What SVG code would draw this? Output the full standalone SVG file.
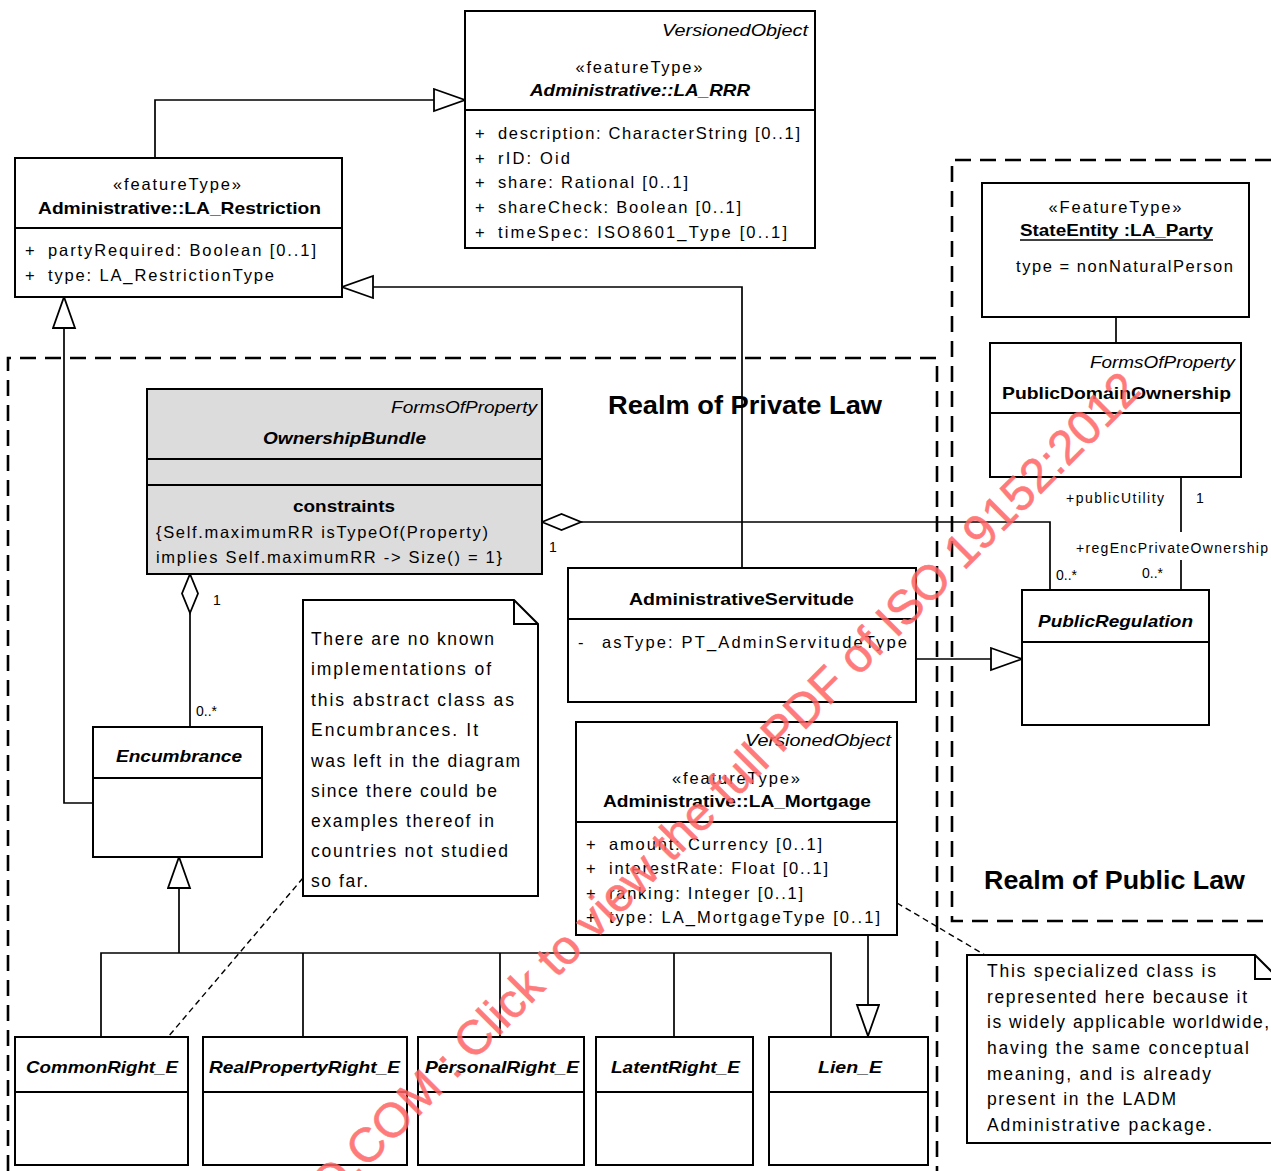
<svg xmlns="http://www.w3.org/2000/svg" width="1271" height="1171" viewBox="0 0 1271 1171">
<style>
text{font-family:"Liberation Sans",Arial,Helvetica,sans-serif;fill:#000}
.box{fill:#fff;stroke:#000;stroke-width:2}
.gray{fill:#dcdcdc;stroke:#000;stroke-width:2}
.sep{stroke:#000;stroke-width:2;fill:none}
.ln{stroke:#000;stroke-width:1.7;fill:none}
.dl{stroke:#000;stroke-width:1.4;fill:none;stroke-dasharray:6 4}
.frame{stroke:#000;stroke-width:2.6;fill:none;stroke-dasharray:16 9}
.a{font-size:16.5px}
.s{font-size:14px}
.n{font-size:17.5px}
.b{font-size:17px;font-weight:bold}
.bi{font-size:17px;font-weight:bold;font-style:italic}
.i{font-size:17px;font-style:italic}
.st{font-size:16.5px}
.realm{font-size:25px;font-weight:bold}
.c{text-anchor:middle}
.r{text-anchor:end}
.wm{font-size:48px;fill:#ff6464;stroke:#ff6464;stroke-width:0.6}
</style>
<defs>
<marker id="gen" markerUnits="userSpaceOnUse" markerWidth="36" markerHeight="26" refX="33" refY="12" orient="auto">
<path d="M2,1 L33,12 L2,23 Z" fill="#fff" stroke="#000" stroke-width="1.8"/>
</marker>
<marker id="agg" markerUnits="userSpaceOnUse" markerWidth="44" markerHeight="22" refX="1" refY="10" orient="auto">
<path d="M1,10 L20.5,2 L40,10 L20.5,18 Z" fill="#fff" stroke="#000" stroke-width="1.8"/>
</marker>
</defs>

<g id="frames">
<path class="frame" d="M8,1171 V358 H937 V1171"/>
<path class="frame" d="M1271,160 H952 V921 H1271"/>
<text class="realm" x="608" y="414" textLength="274" lengthAdjust="spacingAndGlyphs">Realm of Private Law</text>
<text class="realm" x="984" y="889" textLength="261" lengthAdjust="spacingAndGlyphs">Realm of Public Law</text>
</g>

<g id="connectors">
<path class="ln" d="M155,158 V100 H465" marker-end="url(#gen)"/>
<path class="ln" d="M742,568 V287 H342" marker-end="url(#gen)"/>
<path class="ln" d="M93,803 H64 V297" marker-end="url(#gen)"/>
<path class="ln" d="M542,522 H1050 V590" marker-start="url(#agg)"/>
<path class="ln" d="M190,574 V727" marker-start="url(#agg)"/>
<path class="ln" d="M179,953 V857" marker-end="url(#gen)"/>
<path class="ln" d="M101,1037 V953 H831 V1037 M303,953 V1037 M500,953 V1037 M674,953 V1037"/>
<path class="ln" d="M868,935 V1036" marker-end="url(#gen)"/>
<path class="ln" d="M916,659 H1022" marker-end="url(#gen)"/>
<path class="ln" d="M1116,317 V343"/>
<path class="ln" d="M1181,477 V532 M1181,560 V590"/>
<path class="dl" d="M303,878 L168,1037"/>
<path class="dl" d="M897,903 L985,955"/>
<text class="s" x="549" y="552">1</text>
<text class="s" x="1056" y="580">0..*</text>
<text class="s" x="213" y="605">1</text>
<text class="s" x="196" y="716">0..*</text>
<text class="s" x="1066" y="503" textLength="98" lengthAdjust="spacing">+publicUtility</text>
<text class="s" x="1196" y="503">1</text>
<text class="s" x="1076" y="553" textLength="192" lengthAdjust="spacing">+regEncPrivateOwnership</text>
<text class="s" x="1142" y="578">0..*</text>
</g>

<g id="LA_RRR">
<rect class="box" x="465" y="11" width="350" height="237"/>
<line class="sep" x1="465" y1="110" x2="815" y2="110"/>
<text class="i r" x="808" y="36" textLength="146" lengthAdjust="spacingAndGlyphs">VersionedObject</text>
<text class="st c" x="639" y="73" textLength="127" lengthAdjust="spacing">«featureType»</text>
<text class="bi" x="530" y="96" textLength="220" lengthAdjust="spacingAndGlyphs">Administrative::LA_RRR</text>
<g class="a">
<text x="475" y="139">+</text><text x="498" y="139" textLength="302" lengthAdjust="spacing">description: CharacterString [0..1]</text>
<text x="475" y="164">+</text><text x="498" y="164" textLength="72" lengthAdjust="spacing">rID: Oid</text>
<text x="475" y="188">+</text><text x="498" y="188" textLength="190" lengthAdjust="spacing">share: Rational [0..1]</text>
<text x="475" y="213">+</text><text x="498" y="213" textLength="243" lengthAdjust="spacing">shareCheck: Boolean [0..1]</text>
<text x="475" y="238">+</text><text x="498" y="238" textLength="289" lengthAdjust="spacing">timeSpec: ISO8601_Type [0..1]</text>
</g>
</g>

<g id="LA_Restriction">
<rect class="box" x="15" y="158" width="327" height="139"/>
<line class="sep" x1="15" y1="228" x2="342" y2="228"/>
<text class="st c" x="177" y="190" textLength="128" lengthAdjust="spacing">«featureType»</text>
<text class="b" x="38" y="214" textLength="283" lengthAdjust="spacingAndGlyphs">Administrative::LA_Restriction</text>
<g class="a">
<text x="25" y="256">+</text><text x="48" y="256" textLength="268" lengthAdjust="spacing">partyRequired: Boolean [0..1]</text>
<text x="25" y="281">+</text><text x="48" y="281" textLength="226" lengthAdjust="spacing">type: LA_RestrictionType</text>
</g>
</g>

<g id="StateEntity">
<rect class="box" x="982" y="183" width="267" height="134"/>
<text class="st c" x="1115" y="213" textLength="133" lengthAdjust="spacing">«FeatureType»</text>
<text class="b" x="1020" y="236" textLength="193" lengthAdjust="spacingAndGlyphs">StateEntity :LA_Party</text>
<line x1="1020" y1="240" x2="1213" y2="240" stroke="#000" stroke-width="1.5"/>
<text class="a" x="1016" y="272" textLength="217" lengthAdjust="spacing">type = nonNaturalPerson</text>
</g>

<g id="PublicDomainOwnership">
<rect class="box" x="990" y="343" width="251" height="134"/>
<line class="sep" x1="990" y1="413" x2="1241" y2="413"/>
<text class="i r" x="1235" y="368" textLength="145" lengthAdjust="spacingAndGlyphs">FormsOfProperty</text>
<text class="b" x="1002" y="399" textLength="229" lengthAdjust="spacingAndGlyphs">PublicDomainOwnership</text>
</g>

<g id="PublicRegulation">
<rect class="box" x="1022" y="590" width="187" height="135"/>
<line class="sep" x1="1022" y1="642" x2="1209" y2="642"/>
<text class="bi" x="1038" y="627" textLength="155" lengthAdjust="spacingAndGlyphs">PublicRegulation</text>
</g>

<g id="OwnershipBundle">
<rect class="gray" x="147" y="389" width="395" height="185"/>
<line class="sep" x1="147" y1="459" x2="542" y2="459"/>
<line class="sep" x1="147" y1="485" x2="542" y2="485"/>
<text class="i r" x="537" y="413" textLength="146" lengthAdjust="spacingAndGlyphs">FormsOfProperty</text>
<text class="bi" x="263" y="444" textLength="163" lengthAdjust="spacingAndGlyphs">OwnershipBundle</text>
<text class="b" x="293" y="512" textLength="102" lengthAdjust="spacingAndGlyphs">constraints</text>
<text class="a" x="156" y="538" textLength="332" lengthAdjust="spacing">{Self.maximumRR isTypeOf(Property)</text>
<text class="a" x="156" y="563" textLength="346" lengthAdjust="spacing">implies Self.maximumRR -&gt; Size() = 1}</text>
</g>

<g id="AdministrativeServitude">
<rect class="box" x="568" y="568" width="348" height="134"/>
<line class="sep" x1="568" y1="619" x2="916" y2="619"/>
<text class="b" x="629" y="605" textLength="225" lengthAdjust="spacingAndGlyphs">AdministrativeServitude</text>
<text class="a" x="578" y="648">-</text>
<text class="a" x="602" y="648" textLength="305" lengthAdjust="spacing">asType: PT_AdminServitudeType</text>
</g>

<g id="LA_Mortgage">
<rect class="box" x="576" y="722" width="321" height="213"/>
<line class="sep" x1="576" y1="822" x2="897" y2="822"/>
<text class="i r" x="891" y="746" textLength="146" lengthAdjust="spacingAndGlyphs">VersionedObject</text>
<text class="st c" x="736" y="784" textLength="128" lengthAdjust="spacing">«featureType»</text>
<text class="b" x="603" y="807" textLength="268" lengthAdjust="spacingAndGlyphs">Administrative::LA_Mortgage</text>
<g class="a">
<text x="586" y="850">+</text><text x="609" y="850" textLength="213" lengthAdjust="spacing">amount: Currency [0..1]</text>
<text x="586" y="874">+</text><text x="609" y="874" textLength="219" lengthAdjust="spacing">interestRate: Float [0..1]</text>
<text x="586" y="899">+</text><text x="609" y="899" textLength="194" lengthAdjust="spacing">ranking: Integer [0..1]</text>
<text x="586" y="923">+</text><text x="609" y="923" textLength="271" lengthAdjust="spacing">type: LA_MortgageType [0..1]</text>
</g>
</g>

<g id="Encumbrance">
<rect class="box" x="93" y="727" width="169" height="130"/>
<line class="sep" x1="93" y1="778" x2="262" y2="778"/>
<text class="bi" x="116" y="762" textLength="126" lengthAdjust="spacingAndGlyphs">Encumbrance</text>
</g>

<g id="Note1">
<path class="box" d="M303,600 H514 L538,624 V896 H303 Z"/>
<path class="sep" d="M514,600 V624 H538" stroke-width="1.5"/>
<g class="n">
<text x="311" y="645" textLength="183" lengthAdjust="spacing">There are no known</text>
<text x="311" y="675" textLength="180" lengthAdjust="spacing">implementations of</text>
<text x="311" y="706" textLength="203" lengthAdjust="spacing">this abstract class as</text>
<text x="311" y="736" textLength="167" lengthAdjust="spacing">Encumbrances. It</text>
<text x="311" y="767" textLength="209" lengthAdjust="spacing">was left in the diagram</text>
<text x="311" y="797" textLength="186" lengthAdjust="spacing">since there could be</text>
<text x="311" y="827" textLength="183" lengthAdjust="spacing">examples thereof in</text>
<text x="311" y="857" textLength="197" lengthAdjust="spacing">countries not studied</text>
<text x="311" y="887" textLength="57" lengthAdjust="spacing">so far.</text>
</g>
</g>

<g id="Note2">
<path class="box" d="M1280,1143 H967 V955 H1255 L1279,979"/>
<path class="sep" d="M1255,955 V979 H1279" stroke-width="1.5"/>
<g class="n">
<text x="987" y="977" textLength="229" lengthAdjust="spacing">This specialized class is</text>
<text x="987" y="1003" textLength="260" lengthAdjust="spacing">represented here because it</text>
<text x="987" y="1028" textLength="282" lengthAdjust="spacing">is widely applicable worldwide,</text>
<text x="987" y="1054" textLength="262" lengthAdjust="spacing">having the same conceptual</text>
<text x="987" y="1080" textLength="224" lengthAdjust="spacing">meaning, and is already</text>
<text x="987" y="1105" textLength="189" lengthAdjust="spacing">present in the LADM</text>
<text x="987" y="1131" textLength="225" lengthAdjust="spacing">Administrative package.</text>
</g>
</g>

<g id="CommonRight_E">
<rect class="box" x="15" y="1037" width="173" height="128"/>
<line class="sep" x1="15" y1="1092" x2="188" y2="1092"/>
<text class="bi" x="26" y="1073" textLength="152" lengthAdjust="spacingAndGlyphs">CommonRight_E</text>
</g>
<g id="RealPropertyRight_E">
<rect class="box" x="203" y="1037" width="204" height="128"/>
<line class="sep" x1="203" y1="1092" x2="407" y2="1092"/>
<text class="bi" x="209" y="1073" textLength="191" lengthAdjust="spacingAndGlyphs">RealPropertyRight_E</text>
</g>
<g id="PersonalRight_E">
<rect class="box" x="418" y="1037" width="166" height="128"/>
<line class="sep" x1="418" y1="1092" x2="584" y2="1092"/>
<text class="bi" x="425" y="1073" textLength="154" lengthAdjust="spacingAndGlyphs">PersonalRight_E</text>
</g>
<g id="LatentRight_E">
<rect class="box" x="596" y="1037" width="157" height="128"/>
<line class="sep" x1="596" y1="1092" x2="753" y2="1092"/>
<text class="bi" x="611" y="1073" textLength="129" lengthAdjust="spacingAndGlyphs">LatentRight_E</text>
</g>
<g id="Lien_E">
<rect class="box" x="769" y="1037" width="159" height="128"/>
<line class="sep" x1="769" y1="1092" x2="928" y2="1092"/>
<text class="bi" x="818" y="1073" textLength="64" lengthAdjust="spacingAndGlyphs">Lien_E</text>
</g>

<g id="watermark" opacity="0.85">
<text class="wm" x="1143" y="392" transform="rotate(-45 1143 392)" text-anchor="end">O.COM : Click to view the full PDF of ISO 19152:2012</text>
</g>
</svg>
